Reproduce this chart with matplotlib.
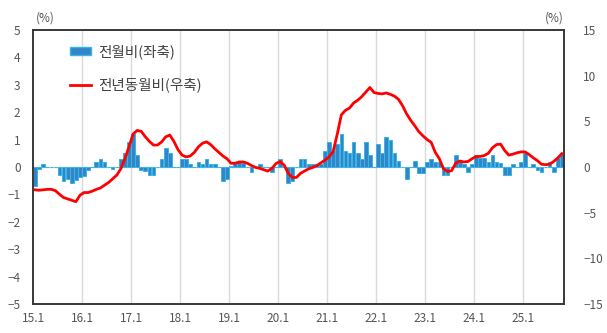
import numpy as np
import matplotlib
matplotlib.use('Agg')
import matplotlib.pyplot as plt
from matplotlib.patches import Patch
from matplotlib.lines import Line2D

plt.rcParams['font.family'] = ['Noto Sans CJK KR', 'DejaVu Sans']
plt.rcParams['axes.unicode_minus'] = False

# monthly change vs previous month (%), 2015.1 ~ 2025.10  -> left axis
mom = [-0.7, -0.08, 0.1, 0, 0, 0, -0.3, -0.52, -0.43, -0.6, -0.46, -0.35,
       -0.33, -0.1, 0, 0.18, 0.3, 0.18, 0, -0.07, 0, 0.3, 0.5, 0.9,
       1.22, 0.43, -0.1, -0.15, -0.3, -0.3, 0, 0.3, 0.7, 0.5, 0, 0,
       0.3, 0.3, 0.1, 0, 0.18, 0.1, 0.3, 0.1, 0.1, 0, -0.52, -0.43,
       0.05, 0.18, 0.18, 0.15, 0, -0.2, 0, 0.1, 0, 0, -0.2, 0,
       0.3, 0, -0.58, -0.5, 0, 0.3, 0.3, 0.12, 0.1, 0.1, 0.1, 0.58,
       0.91, 0.57, 0.85, 1.2, 0.6, 0.52, 0.91, 0.5, 0.3, 0.91, 0.43, 0,
       0.82, 0.52, 1.1, 1.0, 0.52, 0.2, 0, -0.43, 0, 0.2, -0.22, -0.22,
       0.18, 0.3, 0.18, 0.18, -0.3, -0.3, 0, 0.43, 0.18, 0.12, -0.2, 0.12,
       0.43, 0.33, 0.33, 0.18, 0.43, 0.18, 0.15, -0.3, -0.3, 0.1, 0, 0.18,
       0.5, 0, 0.1, -0.1, -0.2, 0, 0.18, -0.2, 0.33, 0.5]

# change vs same month of previous year (%)  -> right axis
yoy = [-2.5, -2.55, -2.5, -2.45, -2.45, -2.6, -3.0, -3.35, -3.5, -3.65, -3.8, -3.1,
       -2.8, -2.8, -2.65, -2.45, -2.3, -2.0, -1.7, -1.3, -0.9, -0.2, 0.9, 2.2,
       3.6, 4.0, 3.9, 3.3, 2.8, 2.4, 2.4, 2.75, 3.3, 3.5, 2.8, 1.9,
       1.3, 1.1, 1.2, 1.6, 2.2, 2.6, 2.75, 2.45, 2.0, 1.6, 1.2, 0.9,
       0.4, 0.4, 0.55, 0.55, 0.4, 0.15, -0.05, -0.15, -0.3, -0.45, -0.15, 0.37,
       0.6, 0.2, -0.7, -1.15, -1.15, -0.7, -0.44, -0.2, -0.05, 0.15, 0.45, 0.75,
       1.1, 1.7, 3.6, 5.7, 6.2, 6.45, 7.0, 7.3, 7.7, 8.2, 8.7, 8.15,
       8.05, 8.0, 8.1, 7.95, 7.75, 7.4, 6.7, 5.8, 5.1, 4.5, 3.85, 3.4,
       3.0, 2.7, 1.6, 0.9, -0.18, -0.5, -0.4, 0.4, 0.65, 0.55, 0.6, 0.9,
       1.15, 1.15, 1.25, 1.5, 2.1, 2.45, 2.5, 1.8, 1.3, 1.4, 1.55, 1.65,
       1.65, 1.35, 1.0, 0.7, 0.3, 0.25, 0.3, 0.6, 1.0, 1.45]

year_labels = ['15.1', '16.1', '17.1', '18.1', '19.1', '20.1',
               '21.1', '22.1', '23.1', '24.1', '25.1']

x = np.arange(len(mom)) + 0.5

fig = plt.figure(figsize=(6.07, 3.33), dpi=100)
ax = fig.add_axes([0.0544, 0.0871, 0.8746, 0.823])
ax2 = ax.twinx()

for i in range(1, len(year_labels)):
    ax.axvline(i * 12, color='#d9d9d9', lw=1, zorder=0)
ax.axhline(0, color='#d9d9d9', lw=1, zorder=0)

ax.bar(x, mom, width=0.9, color='#3485c5', edgecolor='#35b6ea', linewidth=0.7, zorder=2)
ax2.plot(x, yoy, color='#ff0000', lw=2, zorder=3)

ax.set_xlim(0, len(mom))
ax.set_ylim(-5, 5)
ax2.set_ylim(-15, 15)
ax.set_yticks(range(-5, 6))
ax2.set_yticks(range(-15, 16, 5))
ax.set_yticklabels([str(v).replace('-', '−') for v in range(-5, 6)])
ax2.set_yticklabels([str(v).replace('-', '−') for v in range(-15, 16, 5)])
ax.set_xticks(np.arange(len(year_labels)) * 12)
ax.set_xticklabels(year_labels)

for a in (ax, ax2):
    a.tick_params(length=0, labelsize=8.5, labelcolor='#555555')
    for s in a.spines.values():
        s.set_color('#333333')
        s.set_linewidth(1.1)
ax.tick_params(axis='y', pad=9)
ax2.tick_params(axis='y', pad=14)
ax.tick_params(axis='x', pad=6)

ax.set_zorder(ax2.get_zorder() - 1)
ax.patch.set_visible(True)
ax2.patch.set_visible(False)

fig.text(0.075, 0.945, '(%)', fontsize=8.5, color='#555555', ha='center', va='center')
fig.text(0.913, 0.945, '(%)', fontsize=8.5, color='#555555', ha='center', va='center')

handles = [Patch(facecolor='#3485c5', edgecolor='#35b6ea'),
           Line2D([], [], color='#ff0000', lw=2)]
ax2.legend(handles, ['전월비(좌축)', '전년동월비(우축)'], loc='upper left',
           bbox_to_anchor=(0.045, 0.995), frameon=False, fontsize=10.5,
           labelspacing=1.25, handlelength=1.45, handleheight=0.5,
           handletextpad=0.5, labelcolor='#444444')

fig.savefig('out.png', dpi=100)
